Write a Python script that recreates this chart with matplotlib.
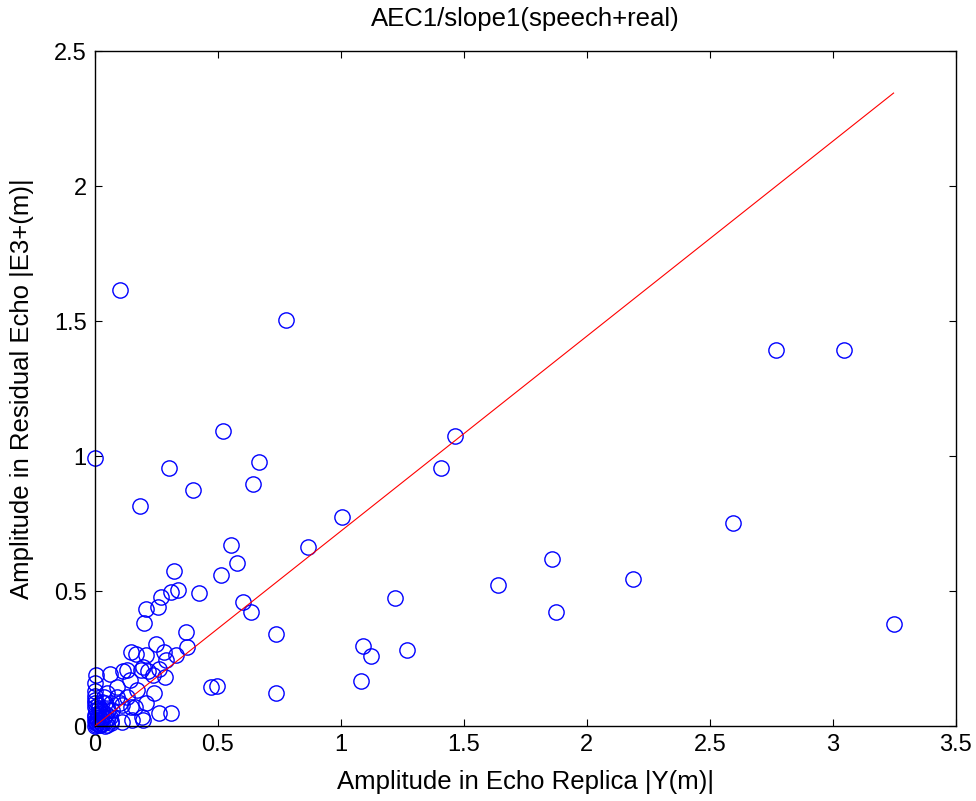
import matplotlib
matplotlib.use('Agg')
import matplotlib.pyplot as plt
import numpy as np

# echo replica amplitude |Y(m)| (x) vs residual echo amplitude |E3+(m)| (y)
x_outer = [0.102, 0.000, 0.776, 0.519, 0.665, 0.302, 0.641, 0.400, 0.183, 1.005,
           1.462, 1.406, 0.867, 0.552, 2.770, 3.045, 2.594, 1.859, 2.189, 1.640,
           1.875, 3.247, 1.220, 1.090, 1.124, 1.270, 1.083]
y_outer = [1.615, 0.993, 1.504, 1.094, 0.977, 0.956, 0.897, 0.874, 0.816, 0.773,
           1.074, 0.956, 0.663, 0.669, 1.392, 1.392, 0.751, 0.619, 0.546, 0.523,
           0.421, 0.377, 0.473, 0.297, 0.260, 0.281, 0.165]

x_mid = [0.576, 0.514, 0.320, 0.339, 0.309, 0.268, 0.255, 0.206, 0.199, 0.423,
         0.600, 0.633, 0.737, 0.369, 0.375, 0.248, 0.145, 0.167, 0.279, 0.330,
         0.206, 0.287, 0.470, 0.496, 0.737]
y_mid = [0.602, 0.561, 0.574, 0.504, 0.495, 0.479, 0.442, 0.432, 0.383, 0.494,
         0.459, 0.421, 0.341, 0.347, 0.292, 0.305, 0.275, 0.266, 0.275, 0.262,
         0.263, 0.244, 0.145, 0.150, 0.122]

x_small = [0.194, 0.217, 0.237, 0.262, 0.285, 0.142, 0.115, 0.131, 0.186, 0.061,
           0.003, 0.000, 0.000, 0.172, 0.240, 0.091, 0.131, 0.088, 0.037, 0.047,
           0.064, 0.102, 0.145, 0.111, 0.207, 0.163, 0.192, 0.260, 0.311, 0.152,
           0.196, 0.108, 0.064, 0.068, 0.041, 0.023, 0.010, 0.000, 0.000, 0.020]
y_small = [0.220, 0.203, 0.189, 0.210, 0.180, 0.170, 0.205, 0.207, 0.207, 0.193,
           0.190, 0.158, 0.130, 0.133, 0.121, 0.146, 0.109, 0.109, 0.109, 0.121,
           0.084, 0.084, 0.072, 0.078, 0.084, 0.072, 0.035, 0.050, 0.050, 0.022,
           0.022, 0.016, 0.010, 0.059, 0.084, 0.059, 0.022, 0.096, 0.084, 0.047]

# the crowded blob right at the origin
x_origin = [0.000, 0.005, 0.010, 0.002, 0.015, 0.020, 0.008, 0.025, 0.030, 0.000,
            0.012, 0.035, 0.040, 0.045, 0.003, 0.018, 0.030, 0.050, 0.055, 0.000,
            0.006, 0.001, 0.022, 0.040, 0.012, 0.028, 0.000, 0.050, 0.060, 0.065]
y_origin = [0.000, 0.005, 0.012, 0.020, 0.003, 0.015, 0.030, 0.025, 0.008, 0.040,
            0.045, 0.035, 0.015, 0.045, 0.060, 0.065, 0.055, 0.025, 0.060, 0.070,
            0.010, 0.032, 0.002, 0.000, 0.078, 0.090, 0.110, 0.005, 0.035, 0.020]

x_vals = np.array(x_outer + x_mid + x_small + x_origin)
y_vals = np.array(y_outer + y_mid + y_small + y_origin)

# fitted slope of the red reference line
slope = 0.722

plt.rcParams['font.family'] = ['Liberation Sans', 'DejaVu Sans']

fig = plt.figure(figsize=(9.76, 8.01), dpi=100)
ax = fig.add_axes([0.0973, 0.0936, 0.882, 0.8427])

ax.plot(x_vals, y_vals, linestyle='none', marker='o', markersize=11,
        markerfacecolor='none', markeredgecolor='#0000ff', markeredgewidth=1.0,
        clip_on=False, zorder=2)

line_x = np.array([0, x_vals.max()])
ax.plot(line_x, slope * line_x, color='#ff0000', linewidth=0.8, zorder=3)

ax.set_xlim(0, 3.5)
ax.set_ylim(0, 2.5)
ax.set_xticks(np.arange(0, 3.51, 0.5))
ax.set_yticks(np.arange(0, 2.51, 0.5))
ax.set_xticklabels(['0', '0.5', '1', '1.5', '2', '2.5', '3', '3.5'])
ax.set_yticklabels(['0', '0.5', '1', '1.5', '2', '2.5'])
ax.tick_params(direction='in', length=5, width=0.8, top=True, right=True,
               labelsize=17, pad=6)
for side in ax.spines.values():
    side.set_linewidth(1.0)

ax.set_title('AEC1/slope1(speech+real)', fontsize=18.5, pad=18)
ax.set_xlabel('Amplitude in Echo Replica |Y(m)|', fontsize=18.5, labelpad=10)
ax.set_ylabel('Amplitude in Residual Echo |E3+(m)|', fontsize=18.5, labelpad=14)

plt.savefig('out.png', dpi=100)
